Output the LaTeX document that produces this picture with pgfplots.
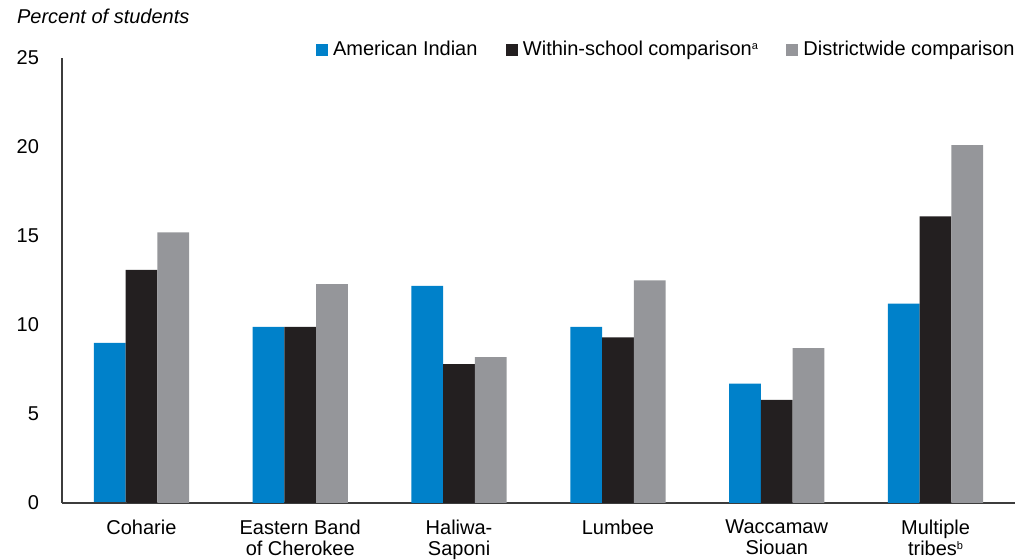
\documentclass[border=0pt]{standalone}
\usepackage{pgfplots}
\pgfplotsset{compat=1.18}
\usepackage{fontspec}
\setmainfont{Liberation Sans}
\definecolor{cblue}{RGB}{0,129,202}
\definecolor{cblack}{RGB}{35,31,32}
\definecolor{cgray}{RGB}{149,150,154}
\definecolor{caxis}{RGB}{60,60,60}
\newcommand{\supmark}[1]{\raisebox{0.55ex}{\fontsize{5.5pt}{6pt}\selectfont #1}}
\begin{document}
\fontsize{10pt}{12pt}\selectfont
\begin{tikzpicture}
\path[use as bounding box] (-31pt,-28.5pt) rectangle (476.5pt,251.5pt);
\begin{axis}[
  at={(0,0)}, anchor=south west,
  scale only axis, width=476.5pt, height=222.5pt,
  xmin=-0.5, xmax=5.5, ymin=0, ymax=25,
  axis x line=bottom, axis y line=left,
  axis line style={-, caxis, line width=0.6pt},
  xtick={0,1,2,3,4,5},
  xticklabels={Coharie,{Eastern Band\\of Cherokee},{Haliwa-\\Saponi},Lumbee,{Waccamaw\\Siouan},{Multiple\\tribes\supmark{b}}},
  xticklabel style={align=center, font=\fontsize{10pt}{10.5pt}\selectfont, yshift=-5pt},
  ytick={0,5,10,15,20,25},
  yticklabel style={xshift=-8pt, font=\fontsize{10pt}{12pt}\selectfont},
  /pgf/number format/assume math mode=true,
  major tick length=0pt,
  tick style={draw=none},
  legend columns=3,
  legend style={at={(rel axis cs:1,1.018)}, anchor=east, draw=none, fill=none,
    inner sep=0pt, font=\fontsize{10pt}{12pt}\selectfont,
    nodes={inner xsep=0pt, inner ysep=1pt},
    /tikz/every odd column/.append style={column sep=2.7pt},
    /tikz/every even column/.append style={column sep=14pt}},
  legend image code/.code={\fill[#1] (0pt,-3pt) rectangle (6pt,3pt);},
  clip=false,
]
\addplot[ybar, bar width=0.2, bar shift=-0.2, fill=cblue, draw=none] coordinates {(0,9.0) (1,9.9) (2,12.2) (3,9.9) (4,6.7) (5,11.2)};
\addlegendentry{American Indian}
\addplot[ybar, bar width=0.2, bar shift=0, fill=cblack, draw=none] coordinates {(0,13.1) (1,9.9) (2,7.8) (3,9.3) (4,5.8) (5,16.1)};
\addlegendentry{Within-school comparison\supmark{a}}
\addplot[ybar, bar width=0.2, bar shift=0.2, fill=cgray, draw=none] coordinates {(0,15.2) (1,12.3) (2,8.2) (3,12.5) (4,8.7) (5,20.1)};
\addlegendentry{Districtwide comparison}
\draw[caxis, line width=0.6pt] (axis cs:-0.5,0) -- ++(-7pt,0);
\end{axis}
\node[anchor=west, font=\fontsize{10pt}{12pt}\selectfont\itshape] at (-26pt,243.5pt) {Percent of students};
\end{tikzpicture}
\end{document}
